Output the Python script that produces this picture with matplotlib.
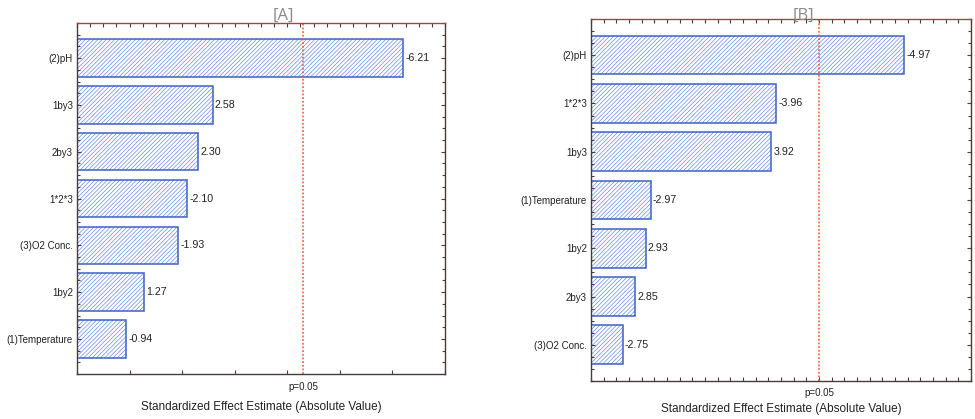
import matplotlib
matplotlib.use('Agg')
import matplotlib.pyplot as plt
import numpy as np

plt.rcParams['font.family'] = ['Liberation Sans', 'DejaVu Sans']
plt.rcParams['hatch.linewidth'] = 0.45

# Pareto chart of standardized effects, two runs
labels_a = ['(2)pH', '1by3', '2by3', '1*2*3', '(3)O2 Conc.', '1by2', '(1)Temperature']
effects_a = [-6.21, 2.58, 2.30, -2.10, -1.93, 1.27, -0.94]

labels_b = ['(2)pH', '1*2*3', '1by3', '(1)Temperature', '1by2', '2by3', '(3)O2 Conc.']
effects_b = [-4.97, -3.96, 3.92, -2.97, 2.93, 2.85, -2.75]

t_crit = 4.303  # p=0.05

edge = '#3d62c4'
hatch_col = '#5a80f0'
spine_col = '#4a3c3c'
fs = 7


def pareto(ax, labels, effects, xlim, xticks, minor_top, title, title_x, lab_off, xl_off):
    n = len(labels)
    pos = np.arange(n)[::-1]
    vals = np.abs(effects)
    ax.barh(pos, vals, height=0.8, color='white', edgecolor=hatch_col, linewidth=0,
            hatch='////////')
    ax.barh(pos, vals, height=0.8, fill=False, edgecolor=edge, linewidth=1.1)
    for p, v, e in zip(pos, vals, effects):
        ax.text(v + (xlim[1] - xlim[0]) * 0.006, p, '%.2f' % e, va='center', ha='left',
                fontsize=fs + 0.7, color='#222222')
    ax.axvline(t_crit, color='#e8572e', linestyle=(0, (1.2, 1.2)), linewidth=1.1)
    ax.set_xlim(*xlim)
    ax.set_ylim(-0.75, n - 0.25)
    ax.set_yticks(pos)
    ax.set_yticklabels(labels, fontsize=fs, color='#222222')
    ax.set_yticks(np.arange(-0.75, n - 0.2, 0.25), minor=True)
    ax.set_xticks(xticks)
    ax.set_xticklabels([])
    if minor_top is not None:
        ax.set_xticks(minor_top, minor=True)
    ax.tick_params(axis='both', which='both', direction='in', top=True, right=True,
                   color=spine_col, length=3, width=0.8)
    ax.tick_params(axis='y', which='minor', length=2)
    ax.tick_params(axis='x', which='minor', bottom=False, top=True, length=3)
    ax.tick_params(axis='y', which='major', pad=3)
    for s in ax.spines.values():
        s.set_color(spine_col)
        s.set_linewidth(1.0)
    ax.spines['top'].set_color('#9a4a40')
    ax.text(t_crit, lab_off, 'p=0.05', transform=ax.get_xaxis_transform(),
            ha='center', va='center', fontsize=fs, color='#222222')
    ax.text(0.5, xl_off, 'Standardized Effect Estimate (Absolute Value)',
            transform=ax.transAxes, ha='center', va='center', fontsize=8.5, color='#222222')
    fig.text(title_x, 0.962, title, ha='center', va='center', fontsize=12,
             color='#8a8a8a', family=['Open Sans', 'DejaVu Sans'])


fig = plt.figure(figsize=(9.75, 4.19), dpi=100)

ax_a = fig.add_axes([0.079, 0.1074, 0.3774, 0.8377])
pareto(ax_a, labels_a, effects_a, (0, 7), np.arange(0, 7.01, 1),
       np.arange(0, 7.01, 0.25), '[A]', 283 / 975, -0.037, -0.094)

ax_b = fig.add_axes([0.6062, 0.0907, 0.3897, 0.864])
pareto(ax_b, labels_b, effects_b, (2.5, 5.5), np.arange(2.5, 5.51, 0.1),
       None, '[B]', 803 / 975, -0.033, -0.078)

fig.savefig('out.png', dpi=100)
